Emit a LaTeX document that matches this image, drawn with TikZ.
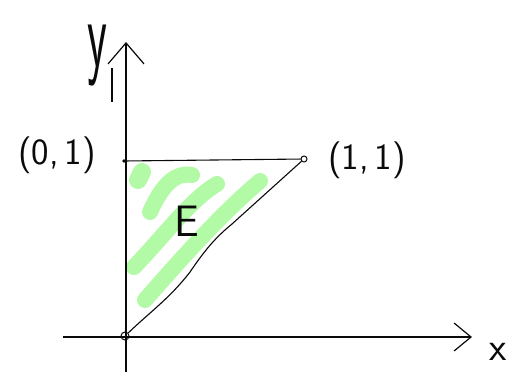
\documentclass[tikz,border=0pt]{standalone}
\usepackage{tikz}
\usetikzlibrary{arrows.meta, positioning}
\definecolor{mygreen}{RGB}{178,250,165}
\definecolor{mydark}{RGB}{10,10,10}
\tikzset{
  axis/.style={line width=1.2pt, color=mydark},
  edge/.style={line width=1.1pt, color=mydark},
  hatch/.style={line width=16pt, line cap=round, color=mygreen},
  pnt/.style={circle, draw=mydark, line width=1pt, inner sep=0pt, minimum size=6pt},
  lbl/.style={font=\sffamily\fontsize{37}{42}\selectfont, color=mydark}
}

\begin{document}
\begin{tikzpicture}[x=1pt, y=-1pt]
  \useasboundingbox (0,0) rectangle (525,375);

  % Shading of the region
  \draw[hatch, line width=18pt] (142,172) -- (138,180);
  \draw[hatch] (150,212) .. controls (162,186) and (174,172) .. (192,175);
  \draw[hatch] (134,267) .. controls (165,235) and (190,200) .. (217,184);
  \draw[hatch] (145,300) .. controls (180,260) and (220,215) .. (260,181);

  % Axes
  \coordinate (o) at (125,336);
  \coordinate (xl) at (63,337);
  \coordinate (xr) at (472,337);
  \coordinate (yb) at (126,372);
  \coordinate (yt) at (126,42);
  \draw[axis, -{Straight Barb[length=17pt, width=28pt]}] (xl) -- (xr);
  \draw[axis, -{Straight Barb[length=21pt, width=36pt]}] (yb) -- (yt);
  \draw[axis] (112,68) -- (112,102);

  % Corners of the triangle
  \node[pnt, minimum size=8pt] (p00) at (o) {};
  \node[circle, fill=mydark, inner sep=1.3pt] (p01) at (124,161) {};
  \node[pnt] (p11) at (304,159) {};

  % Edges
  \draw[edge] (p01) -- (p11);
  \draw[edge] (p00) .. controls (150,312) and (170,298) .. (190,272)
    .. controls (205,250) and (215,238) .. (232,224) -- (p11);

  % Labels
  \node[lbl] (l01) at (57,155) {(0,\,1)};
  \node[lbl] (l11) at (367,160) {(1,\,1)};
  \node[lbl, font=\sffamily\fontsize{44}{48}\selectfont] (lE) at (187,221) {E};
  \node[lbl, font=\sffamily\fontsize{40}{44}\selectfont] (lx) at (498,352) {x};
  \node[lbl, font=\sffamily\fontsize{46}{50}\selectfont, yscale=2.1, transform shape,
    inner sep=1pt] (ly) at (97,56) {y};
\end{tikzpicture}
\end{document}
